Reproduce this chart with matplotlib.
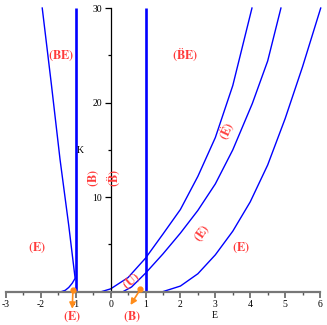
import matplotlib
matplotlib.use("Agg")
import matplotlib.pyplot as plt
from matplotlib.ticker import FixedLocator

plt.rcParams["mathtext.fontset"] = "stix"

# ---- data ----
c1_E = [-0.27, 0.0, 0.5, 1.0, 1.5, 2.0, 2.5, 3.0, 3.5, 4.05]
c1_K = [0.0, 0.3, 1.5, 3.55, 6.1, 8.7, 12.2, 16.3, 21.8, 30.0]

c2_E = [0.35, 0.6, 1.0, 1.5, 2.0, 2.5, 3.0, 3.5, 4.06, 4.5, 4.88]
c2_K = [0.0, 0.5, 1.96, 4.0, 6.2, 8.6, 11.4, 15.0, 19.9, 24.4, 30.0]

c3_E = [1.49, 2.0, 2.5, 3.0, 3.5, 4.0, 4.5, 5.0, 5.5, 6.02]
c3_K = [0.0, 0.6, 1.9, 3.9, 6.4, 9.5, 13.4, 18.3, 23.8, 30.0]

steep_E = [-1.96, -1.7, -1.45, -1.2, -1.02]
steep_K = [30.0, 22.0, 14.0, 7.0, 1.5]

small_E = [-1.42, -1.3, -1.2, -1.1, -1.02]
small_K = [0.0, 0.15, 0.45, 0.9, 1.4]

vert_E = [-1.0, 1.0]
vert_K = [0.0, 30.0]

x_ticks = [-3, -2, -1, 0, 1, 2, 3, 4, 5, 6]
x_ticklabels = ["-3", "-2", "-1", "0", "1", "2", "3", "4", "5", "6"]
x_minor = [-2.5, -1.5, -0.5, 0.5, 1.5, 2.5, 3.5, 4.5, 5.5]
y_ticks = [10, 20, 30]
y_ticklabels = ["10", "20", "30"]
y_minor = [5, 15, 25]

labels = [  # text, E, K, rotation
    (r"$\mathbf{(BE)}$", -1.41, 24.9, 0),
    (r"$\mathbf{(}\ddot{\mathbf{B}}\mathbf{E)}$", 2.15, 25.0, 0),
    (r"$\mathbf{(B)}$", -0.48, 12.0, 90),
    (r"$\mathbf{(}\ddot{\mathbf{B}}\mathbf{)}$", 0.11, 12.0, 90),
    (r"$\mathbf{(E)}$", -2.12, 4.6, 0),
    (r"$\mathbf{(U)}$", 0.59, 1.1, 40),
    (r"$\mathbf{(}\ddot{\mathbf{E}}\mathbf{)}$", 3.35, 17.0, 65),
    (r"$\mathbf{(E)}$", 2.64, 6.2, 55),
    (r"$\mathbf{(E)}$", 3.73, 4.6, 0),
]

markers = [  # dot E, dot K, arrow-end E, arrow-end K, label, label E, label K
    (-1.08, 0.2, -1.1, -1.8, r"$\mathbf{(E)}$", -1.1, -2.7),
    (0.85, 0.25, 0.57, -1.4, r"$\mathbf{(B)}$", 0.62, -2.7),
]

# ---- figure ----
fig = plt.figure(figsize=(3.27, 3.25), dpi=100)
ax = fig.add_axes([0, 0, 1, 1])
ax.set_xlim(-3.17, 6.2)
ax.set_ylim(-3.52, 30.85)

blue = "#0000ff"
red = "#ff3a3a"
orange = "#ff8c1a"
serif = ["Liberation Serif", "DejaVu Serif"]

for E, K in [(c1_E, c1_K), (c2_E, c2_K), (c3_E, c3_K), (steep_E, steep_K), (small_E, small_K)]:
    ax.plot(E, K, color=blue, lw=1.0, solid_joinstyle="round")
for e in vert_E:
    ax.plot([e, e], vert_K, color=blue, lw=1.9, solid_capstyle="butt")

for t, e, k, r in labels:
    ax.text(e, k, t, color=red, fontsize=9, ha="center", va="center",
            rotation=r, rotation_mode="anchor")

for de, dk, ae, ak, t, le, lk in markers:
    ax.annotate("", xy=(ae, ak), xytext=(de, dk), annotation_clip=False,
                arrowprops=dict(arrowstyle="-|>,head_length=0.35,head_width=0.18",
                                color=orange, lw=1.2, shrinkA=0, shrinkB=0),
                zorder=6)
    ax.plot([de], [dk], "o", color=orange, ms=3.5, zorder=7, clip_on=False)
    ax.text(le, lk, t, color=red, fontsize=9, ha="center", va="center")

ax.text(-0.86, 14.9, "K", fontsize=7, family=serif, ha="center", va="center")
ax.text(2.98, -2.5, "E", fontsize=7, family=serif, ha="center", va="center")

# spines
for s in ["top", "right"]:
    ax.spines[s].set_visible(False)
ax.spines["bottom"].set_position(("data", 0))
ax.spines["left"].set_position(("data", 0))
ax.spines["bottom"].set_color("#777777")
ax.spines["bottom"].set_linewidth(1.6)
ax.spines["bottom"].set_bounds(-3, 6)
ax.spines["left"].set_color("black")
ax.spines["left"].set_linewidth(0.9)
ax.spines["left"].set_bounds(0, 30)

ax.xaxis.set_major_locator(FixedLocator(x_ticks))
ax.set_xticklabels(x_ticklabels)
ax.xaxis.set_minor_locator(FixedLocator(x_minor))
ax.yaxis.set_major_locator(FixedLocator(y_ticks))
ax.set_yticklabels(y_ticklabels)
ax.yaxis.set_minor_locator(FixedLocator(y_minor))

ax.tick_params(axis="x", which="major", direction="out", length=4, width=1.1,
               color="#555555", labelsize=7, pad=2)
ax.tick_params(axis="x", which="minor", direction="out", length=2.5, width=1.0,
               color="#555555")
ax.tick_params(axis="y", which="major", direction="out", length=4, width=0.9,
               labelsize=7, pad=2)
ax.tick_params(axis="y", which="minor", direction="out", length=2.5, width=0.9)
for lab in ax.get_xticklabels() + ax.get_yticklabels():
    lab.set_family(serif)

fig.savefig("out.png", dpi=100)
